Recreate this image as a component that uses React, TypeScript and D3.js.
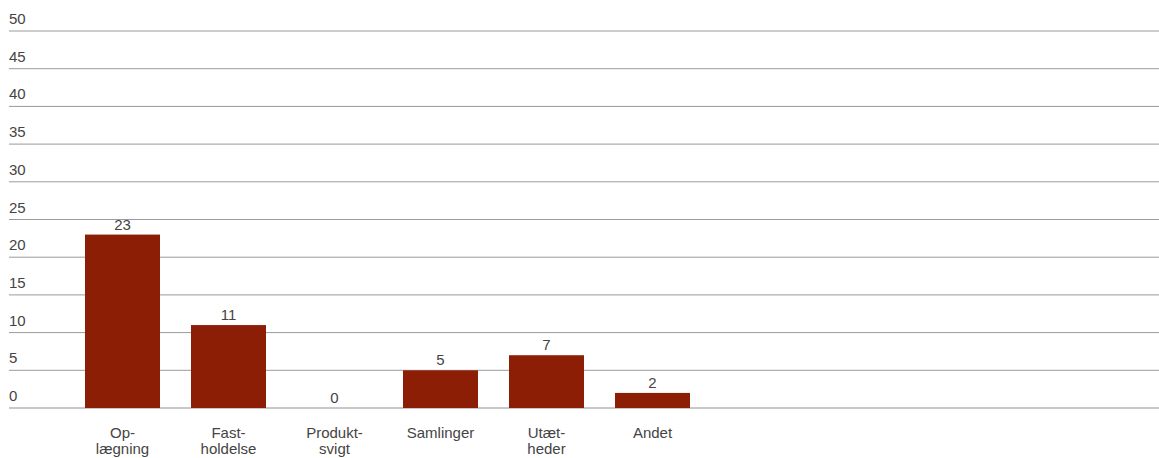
import React from "react";
import * as d3 from "d3";

const categories = ["Op-|lægning", "Fast-|holdelse", "Produkt-|svigt", "Samlinger", "Utæt-|heder", "Andet"];
const values = [23, 11, 0, 5, 7, 2];
const yTicks = [0, 5, 10, 15, 20, 25, 30, 35, 40, 45, 50];

const W = 1159;
const H = 458;

export default function App() {
  const y = d3.scaleLinear().domain([0, 50]).range([408, 31]);
  const x = d3
    .scaleBand<string>()
    .domain(categories)
    .range([69.5, 69.5 + 106 * categories.length])
    .paddingInner(31 / 106)
    .paddingOuter(31 / 212);
  const font = "'Liberation Sans', Arial, sans-serif";
  const fs = 15;
  return (
    <svg width={W} height={H} style={{ position: "absolute", left: 0, top: 0, background: "#fff" }}>
      {yTicks.map((t) => (
        <g key={t}>
          <line
            x1={9}
            x2={W}
            y1={y(t)}
            y2={y(t)}
            stroke={t === 0 ? "#c8c8c8" : "#9a9a9a"}
            strokeWidth={t === 0 ? 2 : 1}
          />
          <text x={9} y={y(t) - 7} fontFamily={font} fontSize={fs} fill="#444">
            {t}
          </text>
        </g>
      ))}
      {categories.map((c, i) => (
        <g key={c}>
          <rect
            x={x(c)}
            y={y(values[i])}
            width={x.bandwidth()}
            height={y(0) - y(values[i])}
            fill="#8b1e04"
          />
          <text
            x={(x(c) as number) + x.bandwidth() / 2}
            y={y(values[i]) - 5}
            textAnchor="middle"
            fontFamily={font}
            fontSize={fs}
            fill="#444"
          >
            {values[i]}
          </text>
          {c.split("|").map((line, j) => (
            <text
              key={j}
              x={(x(c) as number) + x.bandwidth() / 2}
              y={438 + j * 16}
              textAnchor="middle"
              fontFamily={font}
              fontSize={fs}
              fill="#444"
            >
              {line}
            </text>
          ))}
        </g>
      ))}
    </svg>
  );
}
